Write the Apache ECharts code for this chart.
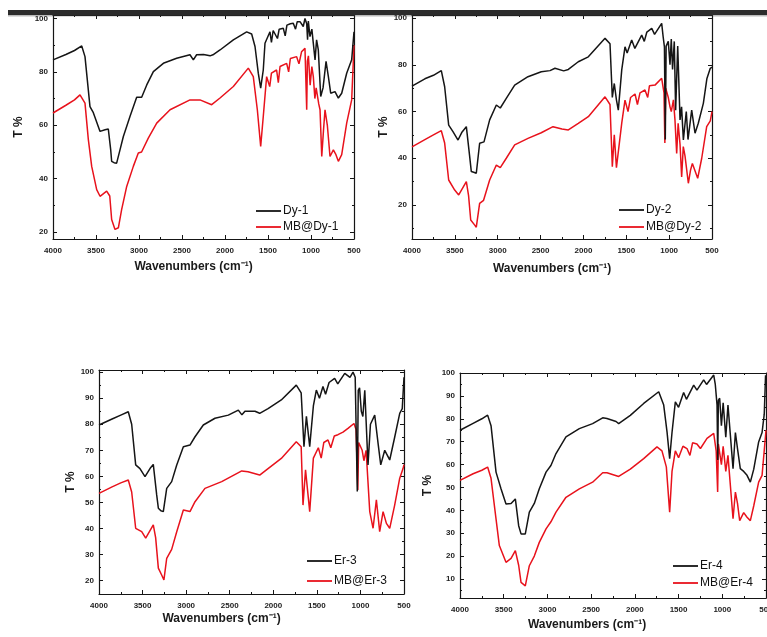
<!DOCTYPE html>
<html>
<head>
<meta charset="utf-8">
<script src="https://cdn.jsdelivr.net/npm/echarts@6/dist/echarts.min.js"></script>
<style>
  html, body { margin: 0; padding: 0; background: #ffffff; }
  #chart { width: 767px; height: 637px; }
</style>
</head>
<body>
<div id="chart"></div>
<script>
// FTIR transmittance spectra: [wavenumber (cm-1), T %]
const dy1 = [[4000,84.5],[3850,86.5],[3750,88],[3666,89.7],[3628,85.7],[3570,67],[3531,64.7],[3453,57.7],[3395,58.3],[3357,58.6],[3329,50.8],[3318,46.5],[3290,46],[3260,45.8],[3221,50.8],[3182,55.8],[3105,63.3],[3027,70.5],[2969,70.5],[2910,75.1],[2833,80.1],[2717,83.2],[2562,85.1],[2407,86.4],[2368,84.5],[2330,86.4],[2250,86.5],[2174,86],[2140,86.4],[2058,88.2],[1903,92],[1748,95],[1690,94.2],[1651,89.5],[1613,79.5],[1585,73.9],[1555,80.7],[1535,90.7],[1477,95],[1460,91],[1440,95.5],[1390,92.5],[1370,96],[1322,96.3],[1300,93.5],[1280,97.5],[1240,98],[1206,98.2],[1180,96],[1160,98.8],[1128,98.8],[1090,97],[1070,100],[1050,98],[1040,92],[1031,99],[1012,93.2],[990,96],[973,90.7],[953,84.5],[935,92],[915,88.2],[887,70.8],[860,74],[825,83.9],[798,78.2],[771,72],[721,72.6],[682,70.2],[643,72],[585,79.5],[527,84.5],[500,95]];
const mbDy1 = [[4000,64.6],[3850,67.5],[3750,69.5],[3686,71.4],[3628,68.3],[3589,54.6],[3550,44.6],[3492,35.9],[3453,33.4],[3376,35.3],[3340,33.5],[3318,24.7],[3279,21],[3240,21.6],[3202,28.4],[3143,37.1],[3066,44.6],[3008,49.6],[2970,50],[2892,55.2],[2794,60.8],[2639,65.8],[2407,69.5],[2291,69.5],[2155,67.7],[2058,70.2],[1903,74.5],[1729,81.4],[1671,78.2],[1624,65.8],[1585,52.1],[1555,63.3],[1516,78.2],[1480,74.5],[1460,79.5],[1400,80.7],[1380,76],[1360,82],[1283,83.2],[1260,80],[1240,85],[1167,85.7],[1140,83],[1110,87.5],[1070,88.8],[1050,65.8],[1042,84],[1030,86],[1010,75],[990,82],[973,78.2],[955,70],[940,74],[910,68],[895,65.8],[875,48.3],[855,58],[837,65.8],[810,60],[779,48.3],[740,50.8],[710,49],[682,46.5],[643,49],[585,60.8],[527,69.5],[500,90]];

const dy2 = [[4000,70.9],[3850,74],[3750,75.5],[3658,77.5],[3619,70.6],[3572,54.2],[3522,51.4],[3463,47.8],[3420,51],[3366,53.5],[3327,40.7],[3308,34.3],[3280,34],[3250,33.6],[3211,46.4],[3160,47],[3094,56.4],[3016,62.8],[2970,61.5],[2900,65.6],[2802,71.3],[2647,74.9],[2492,77],[2390,77.5],[2332,78.5],[2230,77.4],[2176,78],[2060,81.3],[1943,83.4],[1748,91.3],[1690,89],[1663,66],[1640,72],[1615,65],[1593,60.6],[1553,77.8],[1515,87.7],[1490,85],[1437,90.6],[1400,87],[1320,92.7],[1290,90],[1260,94],[1203,95.6],[1170,93],[1087,97.7],[1070,92],[1055,87.7],[1045,48],[1035,88],[1010,90],[990,80],[975,91],[960,78],[940,90],[924,60.6],[900,88],[873,56.4],[855,62],[834,47.8],[800,60],[780,48],[737,60.6],[698,50.7],[660,55],[601,63.5],[560,74],[520,78.5],[500,79]];
const mbDy2 = [[4000,44.9],[3850,48],[3750,50],[3658,51.8],[3619,46.5],[3572,30.7],[3502,26.4],[3455,24.3],[3366,30],[3340,24],[3315,13.6],[3268,11.4],[3250,10.5],[3211,20.7],[3165,22],[3094,30.7],[3016,37.1],[2970,36],[2900,40],[2802,45.7],[2647,48.5],[2492,50.9],[2355,53.5],[2250,52.5],[2176,52.1],[2060,54.9],[1943,57.8],[1748,66.3],[1690,63],[1663,36.4],[1640,50],[1615,36],[1593,35.7],[1553,55],[1515,64.9],[1480,60],[1450,66],[1398,67.5],[1370,63],[1340,68],[1282,69.2],[1250,66],[1230,71],[1165,71.3],[1087,74.2],[1060,68],[1050,46.5],[1040,70],[1010,66],[990,62],[975,60],[950,65],[932,56.4],[912,42],[895,55],[873,46],[854,32],[835,45],[815,41],[776,29.3],[750,35],[729,37.8],[667,31.4],[620,40],[562,53.5],[520,56],[500,60]];

const er3 = [[4000,79.7],[3850,82],[3750,83.5],[3664,84.8],[3625,80],[3579,64.4],[3530,63],[3472,59.9],[3415,63],[3377,64.6],[3338,52.9],[3319,47.8],[3290,46.8],[3262,46.5],[3223,55.4],[3166,58],[3108,64.4],[3032,71.4],[2956,72],[2898,75.2],[2803,79.7],[2669,82.3],[2516,83.5],[2401,85.4],[2360,83.6],[2325,85],[2210,85],[2156,84.2],[2060,86],[1908,89.3],[1736,95],[1680,92],[1648,71.4],[1620,83],[1582,71.4],[1540,87],[1506,93.1],[1470,90],[1430,94.5],[1400,91.5],[1360,96],[1296,97.6],[1260,95.5],[1180,99.5],[1120,98],[1085,100],[1060,98],[1036,54.2],[1025,93],[1010,94],[990,85],[972,83],[950,93],[913,64.4],[885,80],[836,83.5],[795,72],[767,64.4],[721,70],[664,66.3],[607,75],[549,84.2],[520,86],[500,98]];
const mbEr3 = [[4000,53.5],[3850,56],[3750,57.5],[3664,58.6],[3625,54],[3579,40.1],[3510,38.8],[3464,36.3],[3377,41.4],[3350,36.5],[3319,24.8],[3281,22.2],[3255,20.3],[3223,28.6],[3166,32],[3108,38.8],[3032,47.1],[2956,46.5],[2898,50.3],[2784,55.4],[2592,58],[2362,62.1],[2290,61.8],[2156,60.5],[2060,63],[1908,66.9],[1736,73.3],[1680,71.4],[1659,49],[1630,62.5],[1582,46.5],[1540,67],[1483,71],[1450,67],[1420,73],[1372,74],[1340,71],[1300,75.5],[1258,76],[1200,77],[1143,78.4],[1074,80.3],[1050,78],[1030,54.8],[1020,73],[1000,73],[980,70],[960,66],[935,70],[893,46.5],[855,40.1],[817,51],[779,38.8],[740,46.5],[702,42],[664,40.1],[607,49],[549,59.3],[511,63],[500,64.5]];

const er4 = [[4000,75],[3850,78],[3750,80],[3684,81.6],[3645,77],[3588,56.7],[3531,49.4],[3474,42.8],[3416,43],[3367,45],[3329,33.3],[3302,29.7],[3253,29.7],[3207,39.2],[3150,43],[3093,49.4],[3016,56.7],[2960,59.6],[2902,64.8],[2788,72.1],[2635,75.7],[2483,77.9],[2368,80.4],[2319,80.1],[2215,78.8],[2185,77.9],[2052,81.5],[1899,86.7],[1727,91.8],[1670,86],[1632,74.3],[1602,62.6],[1575,74],[1537,87.4],[1500,85],[1442,91.5],[1410,88.5],[1327,94.7],[1290,92.5],[1213,97],[1180,95],[1098,99.1],[1080,95],[1060,86],[1052,62],[1045,88],[1030,89],[1010,77],[990,87],[960,72],[935,86],[877,58.2],[850,74],[826,67],[794,58.2],[755,57],[717,55.3],[679,52.3],[640,58],[584,69.9],[545,74],[520,82],[505,99]];
const mbEr4 = [[4000,53.1],[3850,56],[3750,57.5],[3684,58.9],[3645,54],[3588,36.3],[3550,24.6],[3474,17.3],[3416,19],[3367,22.4],[3329,16],[3302,8.5],[3253,7],[3207,15.8],[3150,20],[3093,26],[3016,31.9],[2960,35],[2902,39.2],[2788,45.7],[2635,49.4],[2483,52.3],[2368,56.4],[2319,56.4],[2185,54.8],[2052,58],[1899,62.6],[1747,67.7],[1690,66],[1640,59],[1602,39.2],[1575,57],[1537,66],[1500,63],[1450,68],[1404,67],[1370,64],[1340,69.5],[1290,69],[1250,67],[1175,71.4],[1098,73.6],[1070,66],[1053,48],[1045,69],[1030,69],[1010,60],[990,68],[960,57],[935,64],[877,36.3],[850,48],[826,43],[801,35.5],[755,39],[717,37],[679,35.5],[640,42],[584,52.3],[545,55.3],[500,75]];

// Tick values
const waveTicks = [4000, 3500, 3000, 2500, 2000, 1500, 1000, 500];
const waveMinor = [3750, 3250, 2750, 2250, 1750, 1250, 750];
const tTicksTop = [20, 40, 60, 80, 100];
const tMinorTop = [10, 30, 50, 70, 90];
const tTicksEr3 = [20, 30, 40, 50, 60, 70, 80, 90, 100];
const tMinorEr3 = [25, 35, 45, 55, 65, 75, 85, 95];
const tTicksEr4 = [10, 20, 30, 40, 50, 60, 70, 80, 90, 100];
const tMinorEr4 = [5, 15, 25, 35, 45, 55, 65, 75, 85, 95];

const sampleNames = ['Dy-1', 'Dy-2', 'Er-3', 'Er-4'];
const loadedNames = ['MB@Dy-1', 'MB@Dy-2', 'MB@Er-3', 'MB@Er-4'];

const FONT = '"Liberation Sans", Arial, sans-serif';
const INK = '#151515';
const RED = '#e8121c';

const panels = [
  { grid: { left: 53, top: 15, width: 301, height: 224 }, yMin: 17.4, yMax: 101.3,
    yTicks: tTicksTop, yMinor: tMinorTop, black: dy1, red: mbDy1,
    legend: { left: 256, top: 204, gap: 2 }, xNameGap: 22, xShift: 10, yNameGap: 28 },
  { grid: { left: 412, top: 15, width: 300, height: 224 }, yMin: 5.45, yMax: 101.3,
    yTicks: tTicksTop, yMinor: tMinorTop, black: dy2, red: mbDy2,
    legend: { left: 619, top: 203, gap: 3 }, xNameGap: 24, xShift: 10, yNameGap: 22 },
  { grid: { left: 99, top: 370, width: 305, height: 224 }, yMin: 14.9, yMax: 100.8,
    yTicks: tTicksEr3, yMinor: tMinorEr3, black: er3, red: mbEr3,
    legend: { left: 307, top: 554, gap: 6 }, xNameGap: 19, xShift: 30, yNameGap: 20 },
  { grid: { left: 460, top: 373, width: 306, height: 225 }, yMin: 1.7, yMax: 100,
    yTicks: tTicksEr4, yMinor: tMinorEr4, black: er4, red: mbEr4,
    legend: { left: 673, top: 559, gap: 3 }, xNameGap: 21, xShift: 26, yNameGap: 26 }
];

const grids = [], xAxes = [], yAxes = [], series = [], legends = [];
const plainNumber = v => String(v);

panels.forEach((p, gi) => {
  // fixed plot frames; labels may run to the edge of the canvas
  grids.push(Object.assign({ containLabel: false, outerBoundsMode: 'none' }, p.grid));

  const lineStyle = { color: INK, width: 1.2 };
  const labelStyle = { fontFamily: FONT, fontSize: 8, fontWeight: 'bold', color: '#222', formatter: plainNumber };

  const xBase = { gridIndex: gi, type: 'value', min: 500, max: 4000, inverse: true,
    splitLine: { show: false }, axisLine: { show: true, onZero: false, lineStyle } };
  const xMainIndex = xAxes.length;
  xAxes.push(Object.assign({}, xBase, {
    position: 'bottom',
    axisTick: { show: true, inside: true, length: 4, customValues: waveTicks, lineStyle: { color: INK } },
    axisLabel: Object.assign({ show: true, margin: 8, customValues: waveTicks }, labelStyle),
    name: 'Wavenumbers (cm\u207B\u00B9)', nameLocation: 'middle', nameGap: p.xNameGap,
    nameTextStyle: { fontFamily: FONT, fontSize: 12, fontWeight: 'bold', color: '#1a1a1a',
      padding: [0, p.xShift * 2, 0, 0] }
  }));
  xAxes.push(Object.assign({}, xBase, {
    position: 'top',
    axisTick: { show: true, inside: true, length: 4, customValues: waveTicks, lineStyle: { color: INK } },
    axisLabel: { show: false }
  }));
  ['bottom', 'top'].forEach(pos => xAxes.push(Object.assign({}, xBase, {
    position: pos, axisLine: { show: false },
    axisTick: { show: true, inside: true, length: 2, customValues: waveMinor, lineStyle: { color: INK } },
    axisLabel: { show: false }
  })));

  const yBase = { gridIndex: gi, type: 'value', min: p.yMin, max: p.yMax,
    splitLine: { show: false }, axisLine: { show: true, onZero: false, lineStyle } };
  const yMainIndex = yAxes.length;
  yAxes.push(Object.assign({}, yBase, {
    position: 'left',
    axisTick: { show: true, inside: true, length: 4, customValues: p.yTicks, lineStyle: { color: INK } },
    axisLabel: Object.assign({ show: true, margin: 5, customValues: p.yTicks }, labelStyle),
    name: 'T %', nameLocation: 'middle', nameGap: p.yNameGap,
    nameTextStyle: { fontFamily: FONT, fontSize: 12, fontWeight: 'bold', color: '#1a1a1a' }
  }));
  yAxes.push(Object.assign({}, yBase, {
    position: 'right',
    axisTick: { show: true, inside: true, length: 4, customValues: p.yTicks, lineStyle: { color: INK } },
    axisLabel: { show: false }
  }));
  ['left', 'right'].forEach(pos => yAxes.push(Object.assign({}, yBase, {
    position: pos, axisLine: { show: false },
    axisTick: { show: true, inside: true, length: 2, customValues: p.yMinor, lineStyle: { color: INK } },
    axisLabel: { show: false }
  })));

  series.push({
    name: sampleNames[gi], type: 'line', xAxisIndex: xMainIndex, yAxisIndex: yMainIndex,
    data: p.black, symbol: 'none', showSymbol: false, smooth: false,
    lineStyle: { color: INK, width: 1.5 }, itemStyle: { color: INK }, z: 3
  });
  series.push({
    name: loadedNames[gi], type: 'line', xAxisIndex: xMainIndex, yAxisIndex: yMainIndex,
    data: p.red, symbol: 'none', showSymbol: false, smooth: false,
    lineStyle: { color: RED, width: 1.5 }, itemStyle: { color: RED }, z: 2
  });

  legends.push({
    data: [sampleNames[gi], loadedNames[gi]], orient: 'vertical',
    left: p.legend.left, top: p.legend.top, itemGap: p.legend.gap,
    icon: 'rect', itemWidth: 25, itemHeight: 1.8, padding: 0, selectedMode: false,
    textStyle: { fontFamily: FONT, fontSize: 12, lineHeight: 14, color: '#111', padding: [0, 0, 0, -3] }
  });
});

const chart = echarts.init(document.getElementById('chart'), null, { renderer: 'canvas' });
chart.setOption({
  animation: false,
  backgroundColor: '#ffffff',
  grid: grids,
  xAxis: xAxes,
  yAxis: yAxes,
  legend: legends,
  series: series,
  graphic: [
    // dark rule along the top edge of the figure
    { type: 'rect', left: 8, top: 10, z: 100,
      shape: { width: 759, height: 5 }, style: { fill: '#2c2c2c' } },
    { type: 'rect', left: 8, top: 15, z: 100,
      shape: { width: 759, height: 1.5 }, style: { fill: 'rgba(60,60,60,0.35)' } }
  ]
});
</script>
</body>
</html>
